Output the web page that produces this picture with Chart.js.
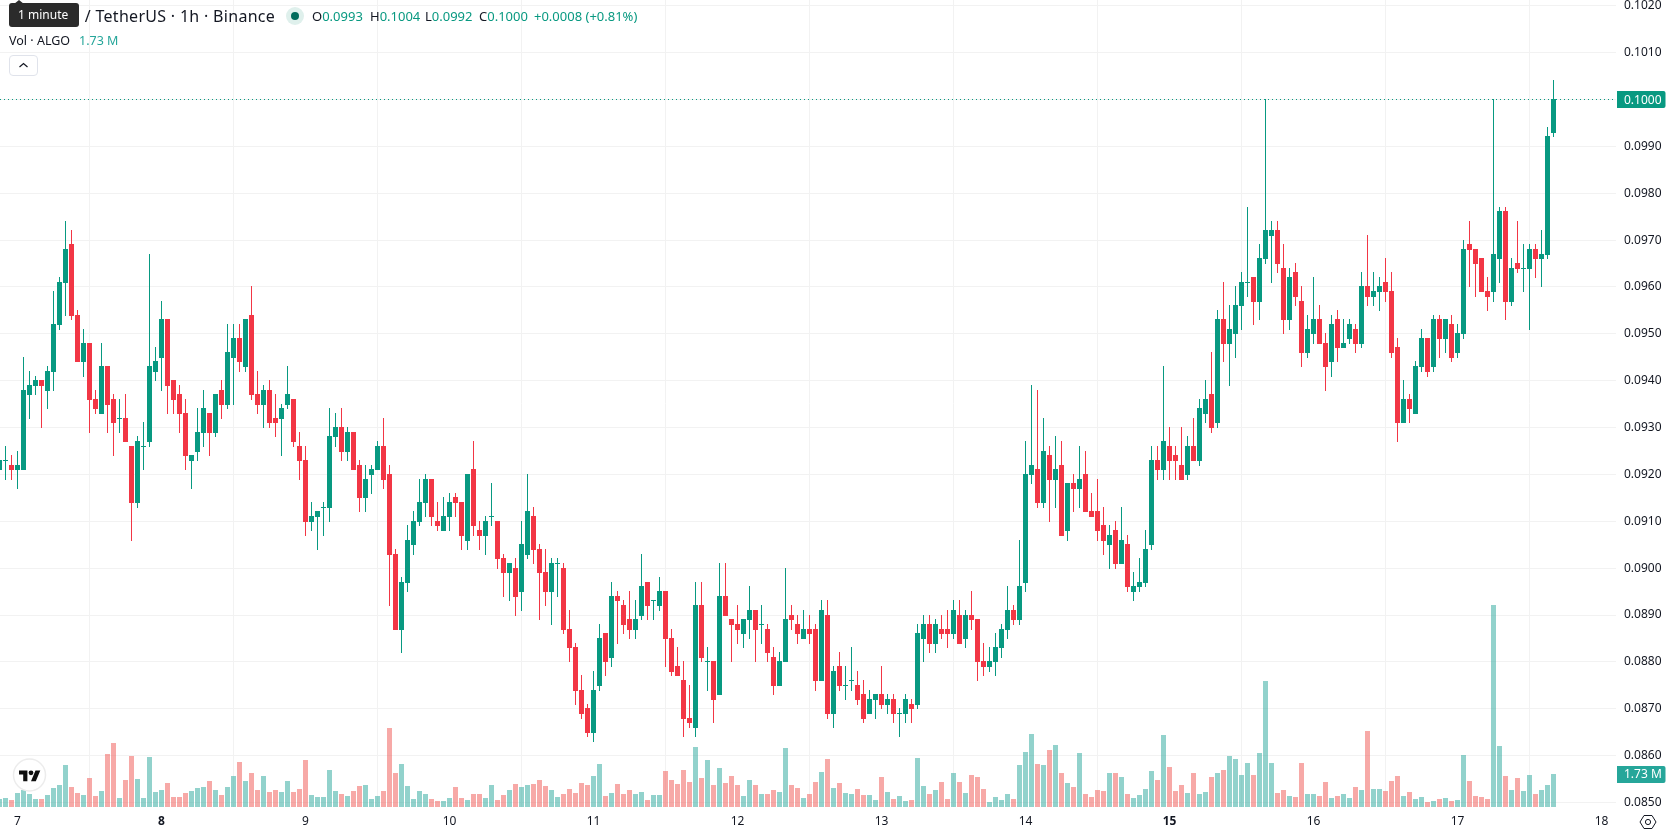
<!DOCTYPE html>
<html>
<head>
<meta charset="utf-8">
<title>ALGO / USDT 1h</title>
<script src="https://cdn.jsdelivr.net/npm/chart.js@4/dist/chart.umd.min.js"></script>
<style>
  html, body { margin: 0; padding: 0; background: #fff; }
  body { width: 1678px; height: 835px; overflow: hidden; position: relative; font-family: "Noto Sans", sans-serif; color: #131722; }
  canvas { position: absolute; left: 0; top: 0; }
  .t { position: absolute; white-space: nowrap; font-size: 13px; line-height: 18px; }
  .up { color: #089981; }
  .title { font-size: 16px; letter-spacing: 0.3px; left: 9px; top: 7px; }
  .vol { font-size: 12.5px; top: 32px; }
  .dot { position: absolute; left: 286px; top: 7px; width: 18px; height: 18px; border-radius: 50%; background: #dff0ec; }
  .dot i { position: absolute; left: 5px; top: 5px; width: 8px; height: 8px; border-radius: 50%; background: #006b5b; }
  .tip { position: absolute; left: 9px; top: 3px; width: 70px; height: 24px; border-radius: 3px; background: #2b2b2b; color: #fff; font-size: 12px; line-height: 24px; text-indent: 9px; }
  .tip:before { content: ""; position: absolute; left: 5px; top: -3px; border-left: 5px solid transparent; border-right: 5px solid transparent; border-bottom: 4px solid #2b2b2b; }
  .btn { position: absolute; left: 9px; top: 55px; width: 27px; height: 19px; border: 1px solid #e0e3eb; border-radius: 4px; background: #fff; }
  svg { position: absolute; overflow: visible; }
</style>
</head>
<body>
<canvas id="main" width="1678" height="835"></canvas>

<div class="t title">Algorand / TetherUS · 1h · Binance</div>
<div class="tip">1 minute</div>
<div class="dot"><i></i></div>
<div class="t" style="left:312px;top:7px">O<span class="up">0.0993</span></div>
<div class="t" style="left:370px;top:7px">H<span class="up">0.1004</span></div>
<div class="t" style="left:425px;top:7px">L<span class="up">0.0992</span></div>
<div class="t" style="left:479px;top:7px">C<span class="up">0.1000</span></div>
<div class="t up" style="left:534px;top:7px">+0.0008 (+0.81%)</div>
<div class="t vol" style="left:9px">Vol · ALGO</div>
<div class="t vol" style="left:79px;color:#26a69a">1.73 M</div>
<div class="btn">
  <svg width="27" height="19" style="left:0;top:0"><path d="M9.5 11 L13.5 7.5 L17.5 11" fill="none" stroke="#131722" stroke-width="1.2"/></svg>
</div>

<svg width="34" height="34" style="left:13px;top:758px">
  <circle cx="16.5" cy="17" r="16" fill="#fff" fill-opacity="0.9" stroke="#ececec" stroke-width="1.5"/>
  <g transform="translate(6 10) scale(0.6)" fill="#0f0f0f">
    <path d="M14 22H7V11H0V4h14v18zM28 22h-8l7.5-18h8L28 22z"/>
    <circle cx="20" cy="8" r="4"/>
  </g>
</svg>
<svg width="18" height="18" style="left:1639px;top:813px">
  <path d="M5 2.5 L13 2.5 L17 9 L13 15.5 L5 15.5 L1 9 Z" fill="none" stroke="#131722" stroke-width="1"/>
  <circle cx="9" cy="9" r="2.6" fill="none" stroke="#131722" stroke-width="1"/>
</svg>

<script>
// hourly candles, first one is 03:00 before the "7" tick
const firstHour = -3;

const opens = [
  0.0921,0.0923,0.0922,0.0921,0.0921,0.0937,0.0939,0.0940,0.0938,0.0942,
  0.0952,0.0961,0.0969,0.0954,0.0944,0.0948,0.0936,0.0933,0.0943,0.0936,
  0.0932,0.0932,0.0926,0.0914,0.0926,0.0927,0.0942,0.0945,0.0953,0.0940,
  0.0937,0.0933,0.0923,0.0925,0.0929,0.0933,0.0929,0.0938,0.0935,0.0945,
  0.0949,0.0943,0.0954,0.0937,0.0935,0.0938,0.0932,0.0932,0.0935,0.0936,
  0.0926,0.0923,0.0910,0.0911,0.0913,0.0913,0.0928,0.0930,0.0925,0.0929,
  0.0922,0.0915,0.0920,0.0921,0.0926,0.0920,0.0903,0.0887,0.0897,0.0905,
  0.0910,0.0914,0.0919,0.0910,0.0908,0.0911,0.0915,0.0914,0.0906,0.0921,
  0.0908,0.0907,0.0911,0.0910,0.0902,0.0899,0.0900,0.0895,0.0903,0.0911,
  0.0904,0.0899,0.0895,0.0901,0.0900,0.0887,0.0883,0.0874,0.0870,0.0865,
  0.0875,0.0886,0.0881,0.0894,0.0892,0.0889,0.0887,0.0890,0.0897,0.0893,
  0.0892,0.0895,0.0885,0.0879,0.0876,0.0868,0.0866,0.0892,0.0880,0.0880,
  0.0873,0.0894,0.0889,0.0888,0.0886,0.0889,0.0891,0.0888,0.0887,0.0881,
  0.0875,0.0880,0.0890,0.0888,0.0885,0.0887,0.0887,0.0876,0.0890,0.0869,
  0.0879,0.0875,0.0876,0.0875,0.0873,0.0869,0.0872,0.0873,0.0871,0.0872,
  0.0869,0.0869,0.0871,0.0871,0.0885,0.0888,0.0884,0.0887,0.0887,0.0886,
  0.0890,0.0885,0.0890,0.0889,0.0880,0.0879,0.0880,0.0883,0.0887,0.0891,
  0.0889,0.0897,0.0920,0.0921,0.0914,0.0924,0.0919,0.0922,0.0908,0.0918,
  0.0917,0.0920,0.0912,0.0912,0.0909,0.0905,0.0908,0.0901,0.0905,0.0895,
  0.0896,0.0897,0.0905,0.0923,0.0921,0.0926,0.0924,0.0922,0.0920,0.0926,
  0.0923,0.0933,0.0937,0.0931,0.0953,0.0948,0.0950,0.0956,0.0961,0.0962,
  0.0957,0.0966,0.0971,0.0972,0.0964,0.0953,0.0963,0.0957,0.0946,0.0950,
  0.0953,0.0948,0.0944,0.0953,0.0947,0.0949,0.0951,0.0948,0.0960,0.0958,
  0.0959,0.0961,0.0959,0.0947,0.0931,0.0936,0.0933,0.0943,0.0949,0.0943,
  0.0953,0.0949,0.0952,0.0946,0.0950,0.0969,0.0968,0.0966,0.0959,0.0959,
  0.0966,0.0976,0.0957,0.0965,0.0964,0.0964,0.0968,0.0966,0.0967,0.0993
];

const closes = [
  0.0923,0.0923,0.0921,0.0922,0.0938,0.0939,0.0940,0.0939,0.0942,0.0952,
  0.0961,0.0968,0.0954,0.0944,0.0948,0.0936,0.0934,0.0943,0.0935,0.0931,
  0.0932,0.0927,0.0914,0.0927,0.0926,0.0943,0.0944,0.0953,0.0939,0.0936,
  0.0933,0.0924,0.0924,0.0929,0.0934,0.0929,0.0937,0.0935,0.0946,0.0949,
  0.0944,0.0953,0.0937,0.0935,0.0938,0.0931,0.0931,0.0934,0.0937,0.0927,
  0.0923,0.0910,0.0911,0.0912,0.0913,0.0928,0.0930,0.0925,0.0929,0.0921,
  0.0915,0.0919,0.0921,0.0926,0.0919,0.0903,0.0887,0.0897,0.0906,0.0910,
  0.0914,0.0919,0.0911,0.0909,0.0911,0.0914,0.0914,0.0907,0.0920,0.0909,
  0.0907,0.0910,0.0911,0.0902,0.0899,0.0901,0.0894,0.0905,0.0912,0.0904,
  0.0899,0.0895,0.0901,0.0901,0.0887,0.0883,0.0874,0.0869,0.0865,0.0874,
  0.0885,0.0880,0.0894,0.0893,0.0888,0.0887,0.0889,0.0896,0.0892,0.0893,
  0.0895,0.0885,0.0878,0.0877,0.0868,0.0867,0.0892,0.0881,0.0880,0.0872,
  0.0894,0.0890,0.0888,0.0887,0.0889,0.0891,0.0887,0.0888,0.0882,0.0875,
  0.0880,0.0889,0.0889,0.0886,0.0887,0.0886,0.0876,0.0891,0.0869,0.0878,
  0.0875,0.0875,0.0876,0.0872,0.0868,0.0872,0.0873,0.0871,0.0872,0.0869,
  0.0869,0.0872,0.0870,0.0886,0.0888,0.0884,0.0888,0.0886,0.0886,0.0891,
  0.0884,0.0890,0.0889,0.0880,0.0879,0.0880,0.0883,0.0887,0.0891,0.0889,
  0.0896,0.0920,0.0922,0.0914,0.0925,0.0919,0.0921,0.0907,0.0918,0.0917,
  0.0919,0.0912,0.0911,0.0908,0.0906,0.0907,0.0901,0.0906,0.0896,0.0896,
  0.0897,0.0904,0.0923,0.0921,0.0927,0.0923,0.0923,0.0919,0.0926,0.0923,
  0.0934,0.0936,0.0930,0.0953,0.0948,0.0951,0.0956,0.0961,0.0961,0.0957,
  0.0966,0.0972,0.0972,0.0965,0.0953,0.0962,0.0958,0.0946,0.0951,0.0953,
  0.0948,0.0943,0.0952,0.0947,0.0948,0.0952,0.0948,0.0960,0.0958,0.0959,
  0.0960,0.0959,0.0946,0.0931,0.0936,0.0934,0.0943,0.0949,0.0942,0.0953,
  0.0949,0.0953,0.0945,0.0950,0.0968,0.0968,0.0965,0.0959,0.0958,0.0967,
  0.0976,0.0957,0.0964,0.0964,0.0964,0.0968,0.0966,0.0967,0.0992,0.1000
];

const highs = [
  0.0924,0.0926,0.0924,0.0925,0.0945,0.0942,0.0941,0.0940,0.0943,0.0959,
  0.0962,0.0974,0.0972,0.0955,0.0951,0.0948,0.0938,0.0948,0.0943,0.0937,
  0.0936,0.0937,0.0926,0.0928,0.0931,0.0967,0.0947,0.0957,0.0953,0.0940,
  0.0939,0.0936,0.0924,0.0934,0.0938,0.0933,0.0937,0.0940,0.0952,0.0952,
  0.0952,0.0953,0.0960,0.0942,0.0939,0.0940,0.0937,0.0935,0.0943,0.0936,
  0.0929,0.0926,0.0914,0.0912,0.0914,0.0934,0.0933,0.0934,0.0930,0.0929,
  0.0923,0.0922,0.0922,0.0927,0.0932,0.0922,0.0904,0.0898,0.0909,0.0912,
  0.0919,0.0920,0.0919,0.0914,0.0915,0.0916,0.0916,0.0914,0.0920,0.0927,
  0.0910,0.0911,0.0918,0.0910,0.0903,0.0901,0.0902,0.0910,0.0920,0.0913,
  0.0905,0.0904,0.0902,0.0902,0.0901,0.0891,0.0884,0.0877,0.0871,0.0878,
  0.0888,0.0886,0.0897,0.0895,0.0893,0.0895,0.0893,0.0903,0.0897,0.0893,
  0.0898,0.0895,0.0887,0.0883,0.0880,0.0875,0.0897,0.0897,0.0883,0.0880,
  0.0901,0.0901,0.0889,0.0892,0.0889,0.0896,0.0891,0.0892,0.0888,0.0883,
  0.0882,0.0900,0.0892,0.0890,0.0891,0.0890,0.0888,0.0893,0.0893,0.0879,
  0.0882,0.0879,0.0883,0.0878,0.0876,0.0874,0.0873,0.0879,0.0873,0.0873,
  0.0870,0.0873,0.0872,0.0888,0.0890,0.0890,0.0889,0.0890,0.0891,0.0893,
  0.0893,0.0891,0.0895,0.0889,0.0884,0.0883,0.0886,0.0888,0.0896,0.0892,
  0.0906,0.0927,0.0939,0.0938,0.0932,0.0926,0.0928,0.0927,0.0918,0.0920,
  0.0926,0.0925,0.0916,0.0919,0.0913,0.0909,0.0910,0.0913,0.0907,0.0899,
  0.0902,0.0908,0.0926,0.0926,0.0943,0.0930,0.0926,0.0930,0.0928,0.0932,
  0.0936,0.0940,0.0946,0.0955,0.0961,0.0956,0.0960,0.0963,0.0977,0.0962,
  0.0969,0.1000,0.0974,0.0974,0.0969,0.0964,0.0965,0.0960,0.0954,0.0962,
  0.0956,0.0950,0.0954,0.0955,0.0953,0.0953,0.0952,0.0963,0.0971,0.0963,
  0.0962,0.0966,0.0963,0.0949,0.0940,0.0937,0.0944,0.0951,0.0949,0.0954,
  0.0954,0.0953,0.0954,0.0952,0.0970,0.0974,0.0968,0.0966,0.0962,0.1000,
  0.0977,0.0977,0.0966,0.0974,0.0969,0.0969,0.0969,0.0972,0.0994,0.1004
];

const lows = [
  0.0920,0.0919,0.0919,0.0917,0.0921,0.0932,0.0937,0.0930,0.0934,0.0938,
  0.0951,0.0954,0.0953,0.0944,0.0941,0.0929,0.0933,0.0933,0.0929,0.0924,
  0.0929,0.0927,0.0906,0.0913,0.0921,0.0926,0.0940,0.0938,0.0933,0.0933,
  0.0929,0.0921,0.0917,0.0923,0.0926,0.0924,0.0928,0.0932,0.0934,0.0935,
  0.0942,0.0942,0.0936,0.0933,0.0930,0.0930,0.0928,0.0924,0.0934,0.0926,
  0.0919,0.0907,0.0908,0.0904,0.0907,0.0910,0.0926,0.0923,0.0923,0.0921,
  0.0912,0.0912,0.0916,0.0921,0.0917,0.0892,0.0887,0.0882,0.0895,0.0903,
  0.0909,0.0911,0.0909,0.0908,0.0908,0.0908,0.0911,0.0904,0.0904,0.0907,
  0.0904,0.0903,0.0909,0.0900,0.0894,0.0893,0.0890,0.0891,0.0902,0.0901,
  0.0889,0.0892,0.0888,0.0894,0.0886,0.0880,0.0871,0.0868,0.0864,0.0863,
  0.0874,0.0877,0.0879,0.0884,0.0886,0.0885,0.0885,0.0889,0.0889,0.0889,
  0.0891,0.0879,0.0877,0.0877,0.0864,0.0866,0.0864,0.0880,0.0874,0.0867,
  0.0873,0.0890,0.0880,0.0884,0.0883,0.0885,0.0880,0.0884,0.0880,0.0873,
  0.0875,0.0880,0.0887,0.0884,0.0885,0.0884,0.0874,0.0876,0.0868,0.0866,
  0.0874,0.0872,0.0874,0.0871,0.0867,0.0869,0.0868,0.0870,0.0869,0.0867,
  0.0864,0.0867,0.0867,0.0870,0.0880,0.0882,0.0882,0.0885,0.0883,0.0885,
  0.0884,0.0883,0.0887,0.0876,0.0877,0.0878,0.0877,0.0881,0.0885,0.0888,
  0.0888,0.0895,0.0918,0.0913,0.0913,0.0910,0.0913,0.0907,0.0906,0.0912,
  0.0913,0.0912,0.0911,0.0906,0.0903,0.0900,0.0900,0.0901,0.0895,0.0893,
  0.0895,0.0896,0.0904,0.0919,0.0919,0.0919,0.0919,0.0919,0.0919,0.0923,
  0.0922,0.0931,0.0929,0.0930,0.0944,0.0939,0.0945,0.0951,0.0958,0.0952,
  0.0953,0.0965,0.0961,0.0963,0.0950,0.0951,0.0956,0.0943,0.0945,0.0948,
  0.0948,0.0938,0.0941,0.0944,0.0947,0.0948,0.0946,0.0947,0.0956,0.0956,
  0.0955,0.0957,0.0945,0.0927,0.0931,0.0931,0.0933,0.0942,0.0941,0.0942,
  0.0945,0.0946,0.0944,0.0945,0.0949,0.0960,0.0958,0.0959,0.0955,0.0957,
  0.0961,0.0953,0.0956,0.0963,0.0959,0.0951,0.0962,0.0960,0.0966,0.0992
];

// volume per candle, millions of ALGO
const volumes = [
  0.41,0.46,0.35,0.72,0.88,0.67,0.41,0.41,0.62,0.99,
  1.15,2.21,1.04,0.72,0.62,1.52,0.57,0.83,2.79,3.37,
  0.46,1.41,2.69,1.47,0.46,2.63,0.78,0.88,1.25,0.51,
  0.51,0.72,0.83,0.99,1.04,1.36,0.88,0.62,1.04,1.63,
  2.37,1.36,1.78,0.88,1.63,0.78,0.88,0.78,1.36,0.78,
  0.94,2.47,0.62,0.51,0.51,1.94,0.83,0.67,0.57,0.83,
  1.10,1.15,0.41,0.57,0.83,4.17,1.78,2.26,1.10,0.41,
  0.83,0.67,0.41,0.30,0.30,0.46,1.04,0.46,0.35,0.67,
  0.67,0.46,1.15,0.35,0.62,0.88,1.20,1.04,1.15,1.20,
  1.41,1.10,0.88,0.51,0.67,0.94,0.72,1.25,1.15,1.63,
  2.26,0.57,0.72,1.20,0.67,0.88,0.67,0.78,0.35,0.62,
  0.62,1.89,1.41,1.20,1.94,1.31,3.16,1.52,2.47,1.15,
  2.05,1.25,1.63,1.15,0.57,1.41,1.15,0.67,0.67,0.88,
  0.78,3.11,1.15,0.99,0.46,0.67,1.31,1.84,2.53,0.99,
  1.25,0.72,0.67,0.94,0.62,0.62,0.35,1.57,0.78,0.41,
  0.57,0.30,0.35,2.58,1.10,0.67,0.88,1.31,0.41,1.78,
  1.31,0.72,1.68,1.57,0.94,0.25,0.51,0.35,0.67,0.41,
  2.21,2.90,3.85,2.26,2.21,3.00,3.27,1.78,1.25,1.04,
  2.84,0.67,0.51,0.88,0.83,1.78,1.78,1.57,0.67,0.46,
  0.62,0.94,1.89,1.41,3.80,2.10,0.83,1.15,0.72,1.78,
  0.67,0.78,1.57,1.78,1.94,2.69,2.53,1.68,2.31,1.68,
  2.84,6.66,2.31,0.72,0.88,0.57,0.51,2.31,0.67,0.67,
  0.57,1.31,0.46,0.57,0.67,0.46,1.04,0.88,4.01,0.94,
  0.94,0.83,1.36,1.63,0.57,0.78,0.41,0.51,0.25,0.30,
  0.41,0.46,0.30,0.35,2.74,1.36,0.57,0.51,0.41,10.69,
  3.22,1.63,0.88,1.52,0.83,1.68,0.67,0.88,1.15,1.73
];

const priceTicks = [0.085,0.086,0.087,0.088,0.089,0.09,0.091,0.092,0.093,0.094,0.095,0.096,0.097,0.098,0.099,0.1,0.101,0.102];
const dayLabels = ['7','8','9','10','11','12','13','14','15','16','17','18'];
const boldDays = ['8','15'];

const UP = '#089981';
const DOWN = '#F23645';
const VOL_UP = 'rgba(38,166,154,0.5)';
const VOL_DOWN = 'rgba(239,83,80,0.5)';

const isUp = i => closes[i] >= opens[i];
const series = pick => opens.map((_, i) => ({ x: firstHour + i, y: pick(i) }));

// candle edges sit on whole pixels so the bodies stay sharp
const snapBars = {
  id: 'snapBars',
  afterDatasetsUpdate(chart) {
    chart.data.datasets.forEach((ds, d) => {
      chart.getDatasetMeta(d).data.forEach(el => {
        if (ds.yAxisID === 'vol') {
          el.y = Math.round(el.y);
          el.base = Math.round(el.base);
        } else {
          const top = Math.min(el.y, el.base);
          const bottom = Math.max(el.y, el.base);
          el.y = Math.floor(top);
          el.base = Math.floor(bottom) + 1;
        }
      });
    });
  }
};

// dotted last price line and the two value tags on the axis
const lastValues = {
  id: 'lastValues',
  afterDraw(chart) {
    const { ctx, chartArea } = chart;
    const last = closes.length - 1;
    const priceY = Math.floor(chart.scales.y.getPixelForValue(closes[last])) + 0.5;
    const volY = chart.scales.vol.getPixelForValue(volumes[last]);

    ctx.save();
    ctx.strokeStyle = UP;
    ctx.lineWidth = 1;
    ctx.setLineDash([1, 3]);
    ctx.beginPath();
    ctx.moveTo(chartArea.left, priceY);
    ctx.lineTo(chartArea.right, priceY);
    ctx.stroke();
    ctx.setLineDash([]);

    const tag = (y, text, color) => {
      ctx.fillStyle = color;
      ctx.beginPath();
      ctx.roundRect(chartArea.right + 1, Math.round(y - 8.5), 48.5, 17, [0, 2, 2, 0]);
      ctx.fill();
      ctx.fillStyle = '#fff';
      ctx.font = '12px "Noto Sans"';
      ctx.textAlign = 'left';
      ctx.textBaseline = 'middle';
      ctx.fillText(text, chartArea.right + 8, Math.round(y) + 0.5);
    };
    tag(priceY, closes[last].toFixed(4), UP);
    tag(volY, volumes[last].toFixed(2) + ' M', '#26a69a');
    ctx.restore();
  }
};

new Chart(document.getElementById('main'), {
  type: 'bar',
  data: {
    datasets: [
      {
        label: 'Volume',
        yAxisID: 'vol',
        order: 3,
        data: series(i => volumes[i]),
        backgroundColor: opens.map((_, i) => isUp(i) ? VOL_UP : VOL_DOWN),
        maxBarThickness: 5
      },
      {
        label: 'Wicks',
        yAxisID: 'y',
        order: 2,
        data: series(i => [lows[i], highs[i]]),
        backgroundColor: opens.map((_, i) => isUp(i) ? UP : DOWN),
        maxBarThickness: 1
      },
      {
        label: 'Bodies',
        yAxisID: 'y',
        order: 1,
        data: series(i => [opens[i], closes[i]]),
        backgroundColor: opens.map((_, i) => isUp(i) ? UP : DOWN),
        maxBarThickness: 5
      }
    ]
  },
  options: {
    responsive: false,
    animation: false,
    events: [],
    layout: { autoPadding: false, padding: 0 },
    datasets: { bar: { grouped: false, barPercentage: 1, categoryPercentage: 1, inflateAmount: 0, borderWidth: 0 } },
    plugins: { legend: { display: false }, tooltip: { enabled: false } },
    scales: {
      x: {
        type: 'linear',
        offset: false,
        min: -17.5 / 6,
        max: (1616 - 17.5) / 6,
        afterBuildTicks: axis => { axis.ticks = dayLabels.map((_, d) => ({ value: d * 24 })); },
        afterFit: axis => {
          axis.height = 28;
          axis.paddingLeft = axis.paddingRight = 0;
        },
        grid: { color: '#f2f2f2', drawTicks: false },
        border: { display: false },
        ticks: {
          autoSkip: false,
          maxRotation: 0,
          padding: 7,
          color: '#131722',
          callback: v => dayLabels[v / 24],
          font: ctx => ({
            family: '"Noto Sans"',
            size: 12,
            weight: ctx.tick && boldDays.includes(dayLabels[ctx.tick.value / 24]) ? 'bold' : 'normal'
          })
        }
      },
      y: {
        position: 'right',
        min: 0.0849044,
        max: 0.1021230,
        afterBuildTicks: axis => { axis.ticks = priceTicks.map(v => ({ value: v })); },
        afterFit: axis => {
          axis.width = 62;
          axis.paddingTop = axis.paddingBottom = 0;
        },
        grid: { color: '#f2f2f2', drawTicks: false },
        border: { display: false },
        ticks: {
          autoSkip: false,
          padding: 8,
          color: '#131722',
          font: { family: '"Noto Sans"', size: 12 },
          callback: v => v.toFixed(4)
        }
      },
      vol: {
        display: false,
        min: 0,
        max: 42.77
      }
    }
  },
  plugins: [snapBars, lastValues]
});
</script>
</body>
</html>
